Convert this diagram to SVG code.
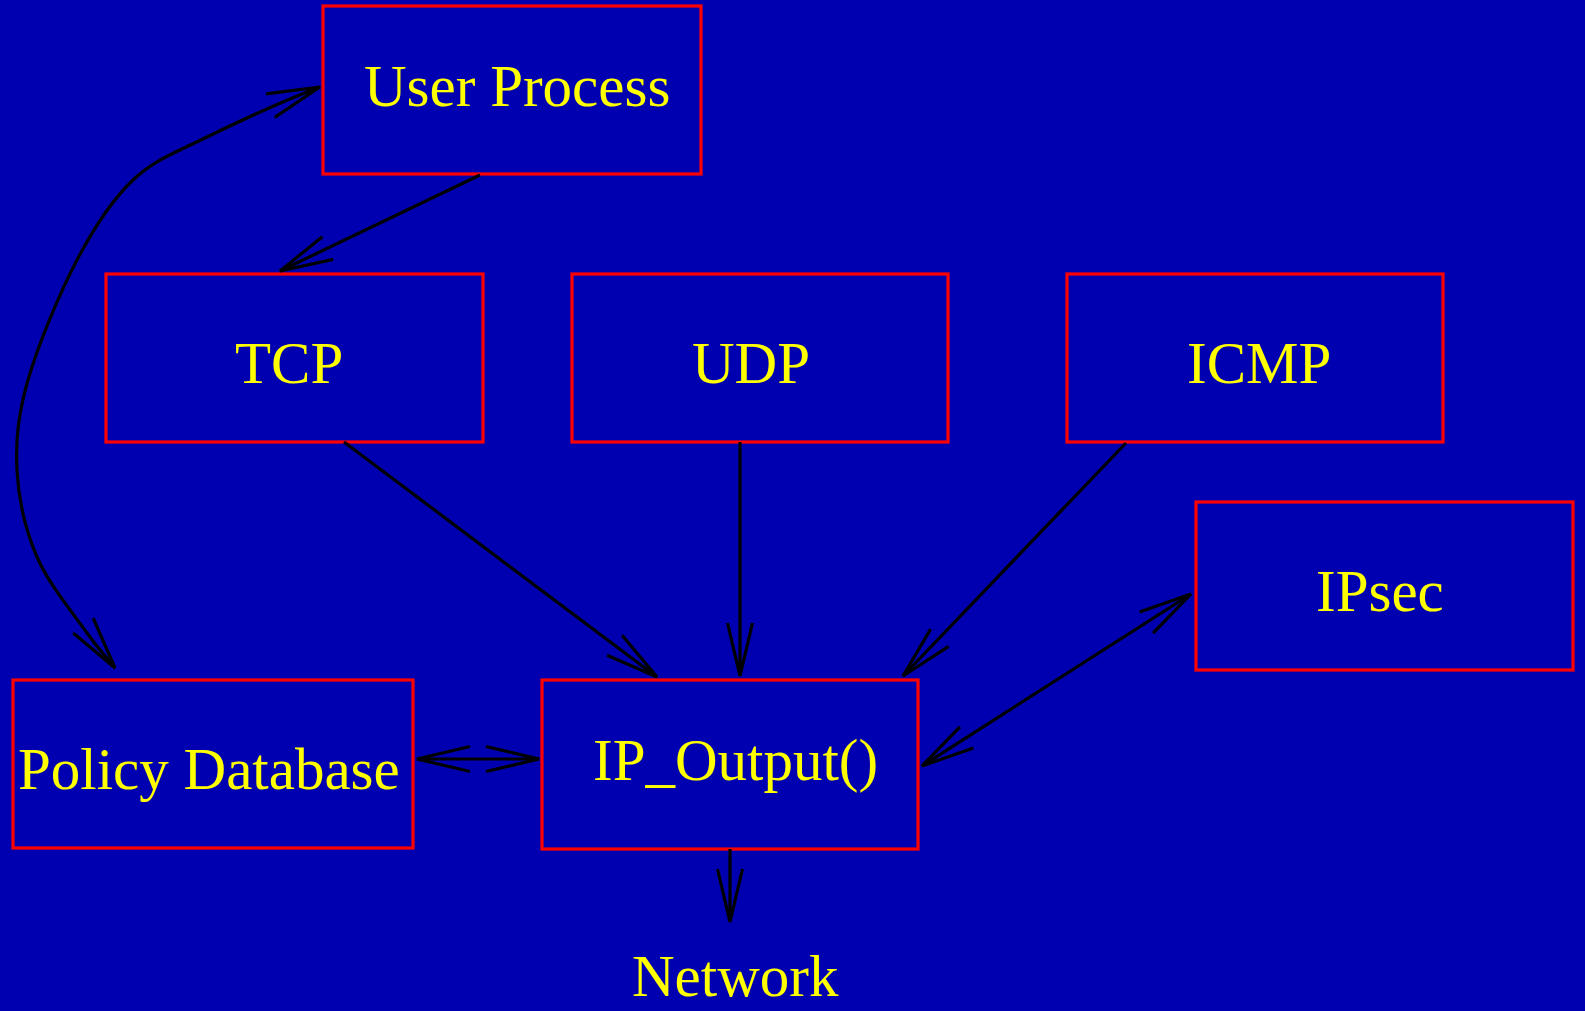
<svg xmlns="http://www.w3.org/2000/svg" width="1585" height="1011" viewBox="0 0 1585 1011">
<style>
.box{fill:none;stroke:#ff0000;stroke-width:3.2}
.lbl{font-family:"Liberation Serif","Times New Roman",serif;font-size:59px;fill:#ffff00}
.con{fill:none;stroke:#000000;stroke-width:3.2}
</style>
<defs>
<marker id="ah" viewBox="-60 -16 64 32" refX="0" refY="0" markerWidth="64" markerHeight="32" markerUnits="userSpaceOnUse" orient="auto-start-reverse" overflow="visible">
<path d="M-53,-12.5 L0,0 L-53,12.5" fill="none" stroke="#000000" stroke-width="3.2"/>
</marker>
</defs>
<rect x="0" y="0" width="1585" height="1011" fill="#0000b0"/>
<g id="user-process"><rect class="box" x="323" y="6" width="378" height="168"/><text class="lbl" x="364" y="106">User Process</text></g>
<g id="tcp"><rect class="box" x="106" y="274" width="377" height="168"/><text class="lbl" x="235" y="383">TCP</text></g>
<g id="udp"><rect class="box" x="572" y="274" width="376" height="168"/><text class="lbl" x="692" y="383">UDP</text></g>
<g id="icmp"><rect class="box" x="1067" y="274" width="376" height="168"/><text class="lbl" x="1187" y="383">ICMP</text></g>
<g id="ipsec"><rect class="box" x="1196" y="502" width="377" height="168"/><text class="lbl" x="1316" y="611">IPsec</text></g>
<g id="ip-output"><rect class="box" x="542" y="680" width="376" height="169"/><text class="lbl" x="593" y="780">IP_Output()</text></g>
<g id="policy-database"><rect class="box" x="13" y="680" width="400" height="168"/><text class="lbl" x="18" y="789">Policy Database</text></g>
<g id="network"><text class="lbl" x="632" y="996">Network</text></g>
<g id="connectors">
<line class="con" x1="480" y1="175" x2="280" y2="271" marker-end="url(#ah)"/>
<line class="con" x1="344" y1="442" x2="657" y2="677" marker-end="url(#ah)"/>
<line class="con" x1="740" y1="442" x2="740" y2="676" marker-end="url(#ah)"/>
<line class="con" x1="1126" y1="443" x2="903" y2="676" marker-end="url(#ah)"/>
<line class="con" x1="922" y1="766" x2="1191" y2="594" marker-start="url(#ah)" marker-end="url(#ah)"/>
<line class="con" x1="417" y1="759" x2="539" y2="759" marker-start="url(#ah)" marker-end="url(#ah)"/>
<line class="con" x1="730" y1="849" x2="730" y2="922" marker-end="url(#ah)"/>
<path class="con" d="M320,87 C280,102 238.8,121.5 207,137 C175.8,152.5 154.7,159.5 133,180 C111.3,200.5 94.5,226.7 77,260 C59.5,293.3 38,345 28,380 C18,415 15.5,440.5 17,470 C18.5,499.5 25.3,529.8 37,557 C48.7,584.2 74,614.5 87,633 C100,651.5 106,656 115,668" marker-start="url(#ah)" marker-end="url(#ah)"/>
</g>
</svg>
